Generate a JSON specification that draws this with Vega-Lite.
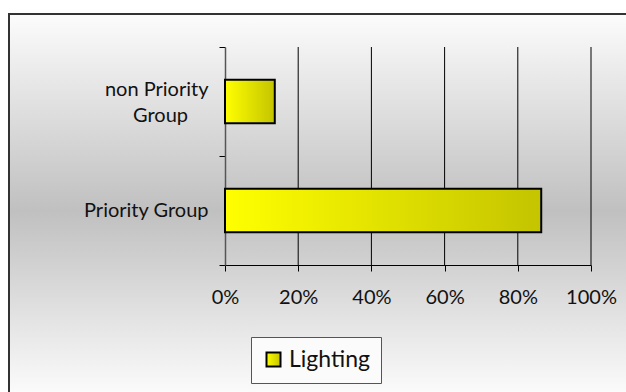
{
  "$schema": "https://vega.github.io/schema/vega-lite/v6.json",
  "autosize": "none",
  "padding": {"left": 9, "top": 14, "right": -1, "bottom": -1},
  "width": 618,
  "height": 379,
  "background": "#ffffff",
  "layer": [
    {
      "data": {"values": [{"tick": 0.2}, {"tick": 0.4}, {"tick": 0.6}, {"tick": 0.8}, {"tick": 1.0}]},
      "mark": {"type": "rule", "color": "#000000", "strokeWidth": 1},
      "encoding": {
        "x": {"field": "tick", "type": "quantitative"},
        "y": {
          "datum": 0,
          "type": "quantitative",
          "scale": {"domain": [0, 1], "range": [33, 251]},
          "axis": {
            "orient": "left",
            "offset": -216,
            "title": null,
            "values": [0, 0.5, 1],
            "labels": false,
            "grid": false,
            "domainColor": "#555555",
            "domainWidth": 1.5,
            "tickColor": "#000000",
            "tickSize": 6
          }
        },
        "y2": {"datum": 1}
      }
    },
    {
      "data": {
        "values": [
          {"group": "non Priority Group", "series": "Lighting", "share": 0.136},
          {"group": "Priority Group", "series": "Lighting", "share": 0.864}
        ]
      },
      "mark": {
        "type": "bar",
        "strokeWidth": 2,
        "fill": {
          "gradient": "linear",
          "x1": 0, "y1": 0, "x2": 1, "y2": 0,
          "stops": [
            {"offset": 0, "color": "#ffff00"},
            {"offset": 1, "color": "#c4c400"}
          ]
        }
      },
      "encoding": {
        "y": {
          "field": "group",
          "type": "nominal",
          "sort": null,
          "title": null,
          "scale": {"range": [33, 251], "paddingInner": 0.6, "paddingOuter": 0.3},
          "axis": {
            "orient": "left",
            "offset": -216,
            "domain": false,
            "ticks": false,
            "labelPadding": 17,
            "labelFont": "Lato",
            "labelFontSize": 20,
            "labelColor": "#111111",
            "labelLineHeight": 26,
            "labelAlign": "right",
            "labelOffset": {"condition": {"test": "datum.value == 'non Priority Group'", "value": -12}, "value": 0},
            "labelExpr": "datum.label == 'non Priority Group' ? ['non Priority', 'Group\u00a0\u00a0\u00a0\u00a0\u200b'] : datum.label"
          }
        },
        "x": {
          "field": "share",
          "type": "quantitative",
          "title": null,
          "scale": {"domain": [0, 1], "range": [216, 582], "nice": false},
          "axis": {
            "orient": "bottom",
            "offset": -128,
            "values": [0, 0.2, 0.4, 0.6, 0.8, 1],
            "format": ".0%",
            "grid": false,
            "labelFlush": false,
            "domainColor": "#000000",
            "domainWidth": 1,
            "tickColor": "#000000",
            "tickSize": 6,
            "labelPadding": 16,
            "labelFont": "Lato",
            "labelFontSize": 20,
            "labelColor": "#111111"
          }
        },
        "stroke": {
          "field": "series",
          "type": "nominal",
          "scale": {"range": ["#000000"]},
          "legend": {
            "orient": "none",
            "legendX": 242,
            "legendY": 323,
            "title": null,
            "symbolType": "square",
            "symbolSize": 196,
            "symbolStrokeWidth": 2,
            "labelFont": "Lato",
            "labelFontSize": 23,
            "labelColor": "#111111",
            "labelOffset": 4,
            "padding": 11,
            "fillColor": "#fbfbfb",
            "strokeColor": "#555555",
            "encode": {
              "symbols": {
                "update": {
                  "fill": {
                    "value": {
                      "gradient": "linear",
                      "x1": 0, "y1": 0, "x2": 1, "y2": 0,
                      "stops": [
                        {"offset": 0, "color": "#ffff00"},
                        {"offset": 1, "color": "#c4c400"}
                      ]
                    }
                  }
                }
              }
            }
          }
        }
      }
    }
  ],
  "resolve": {"scale": {"y": "independent"}, "axis": {"y": "independent"}},
  "config": {
    "font": "Lato",
    "view": {
      "stroke": "#333333",
      "strokeWidth": 2,
      "fill": {
        "gradient": "linear",
        "x1": 0, "y1": 0, "x2": 0, "y2": 1,
        "stops": [
          {"offset": 0, "color": "#fcfcfc"},
          {"offset": 0.52, "color": "#c0c0c0"},
          {"offset": 1, "color": "#fbfbfb"}
        ]
      }
    }
  }
}
